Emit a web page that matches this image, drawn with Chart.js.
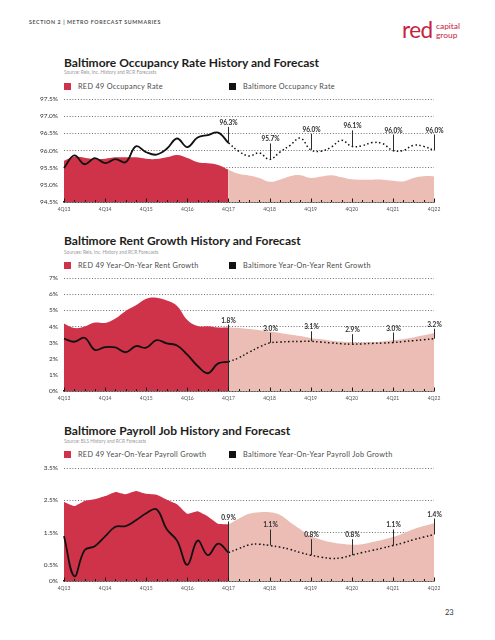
<!DOCTYPE html>
<html>
<head>
<meta charset="utf-8">
<script src="https://cdn.jsdelivr.net/npm/chart.js@4.4.1/dist/chart.umd.min.js"></script>
<style>
  html, body { margin: 0; padding: 0; background: #fff; }
  body { width: 495px; height: 640px; position: relative; overflow: hidden; font-family: Lato, 'Open Sans', sans-serif; color: #333; }
  .abs { position: absolute; white-space: nowrap; line-height: 1; }
  .section { left: 29px; top: 20px; font-size: 5.3px; font-weight: 700; letter-spacing: 0.6px; color: #555; }
  .title { left: 64px; font-size: 12px; font-weight: 700; color: #1d1d1b; }
  .src { left: 64px; font-size: 4.8px; color: #9a9a9a; }
  .leg { font-size: 7.3px; line-height: 7px; letter-spacing: 0.3px; color: #4a4a4a; }
  .sw { position: absolute; width: 7px; height: 7px; }
  .logo { color: #c8203e; }
  canvas { position: absolute; left: 0; }
</style>
</head>
<body>

<div class="abs section">SECTION 2 | METRO FORECAST SUMMARIES</div>
<div class="abs logo" style="left:402px;top:19px;font-size:22.5px;letter-spacing:-0.6px;">red</div>
<div class="abs logo" style="left:436px;top:22px;font-size:8.4px;">capital</div>
<div class="abs logo" style="left:436px;top:31px;font-size:8.4px;">group</div>

<!-- occupancy -->
<div class="abs title" style="top:56.5px;">Baltimore Occupancy Rate History and Forecast</div>
<div class="abs src" style="top:70px;">Source: Reis, Inc. History and RCR Forecasts</div>
<div class="sw" style="left:64px;top:82.5px;background:#cf3349;"></div>
<div class="abs leg" style="left:78px;top:82.5px;">RED 49 Occupancy Rate</div>
<div class="sw" style="left:229px;top:82.5px;background:#111;"></div>
<div class="abs leg" style="left:243px;top:82.5px;">Baltimore Occupancy Rate</div>
<canvas id="occ" width="495" height="128" style="top:88px;"></canvas>

<!-- rent -->
<div class="abs title" style="top:234.5px;">Baltimore Rent Growth History and Forecast</div>
<div class="abs src" style="top:249.5px;">Sources: Reis, Inc. History and RCR Forecasts</div>
<div class="sw" style="left:64px;top:261.5px;background:#cf3349;"></div>
<div class="abs leg" style="left:78px;top:261.5px;">RED 49 Year-On-Year Rent Growth</div>
<div class="sw" style="left:229px;top:261.5px;background:#111;"></div>
<div class="abs leg" style="left:243px;top:261.5px;">Baltimore Year-On-Year Rent Growth</div>
<canvas id="rent" width="495" height="138" style="top:267px;"></canvas>

<!-- payroll -->
<div class="abs title" style="top:424.5px;">Baltimore Payroll Job History and Forecast</div>
<div class="abs src" style="top:438.5px;">Source: BLS History and RCR Forecasts</div>
<div class="sw" style="left:64px;top:451px;background:#cf3349;"></div>
<div class="abs leg" style="left:78px;top:451px;">RED 49 Year-On-Year Payroll Growth</div>
<div class="sw" style="left:229px;top:451px;background:#111;"></div>
<div class="abs leg" style="left:243px;top:451px;">Baltimore Year-On-Year Payroll Job Growth</div>
<canvas id="jobs" width="495" height="138" style="top:457px;"></canvas>

<div class="abs" style="left:445px;top:609px;font-size:7.5px;color:#333;">23</div>

<script>
const quarterLabels = ['4Q13','1Q14','2Q14','3Q14','4Q14','1Q15','2Q15','3Q15','4Q15',
  '1Q16','2Q16','3Q16','4Q16','1Q17','2Q17','3Q17','4Q17',
  '1Q18','2Q18','3Q18','4Q18','1Q19','2Q19','3Q19','4Q19','1Q20','2Q20','3Q20','4Q20',
  '1Q21','2Q21','3Q21','4Q21','1Q22','2Q22','3Q22','4Q22'];
const forecastStart = '4Q17';
const calloutQuarters = ['4Q17','4Q18','4Q19','4Q20','4Q21','4Q22'];

// occupancy rate (%)
const occRedHistory = [95.70, 95.82, 95.79, 95.75, 95.76, 95.80, 95.80, 95.80, 95.76, 95.75, 95.80, 95.87, 95.78, 95.66, 95.63, 95.58, 95.44];
const occRedForecast = [95.44, 95.32, 95.27, 95.20, 95.09, 95.15, 95.25, 95.28, 95.20, 95.24, 95.28, 95.22, 95.16, 95.15, 95.15, 95.15, 95.12, 95.10, 95.20, 95.25, 95.25];
const occMetroHistory = [95.49, 95.86, 95.60, 95.78, 95.63, 95.75, 95.66, 96.12, 95.95, 95.88, 96.05, 96.35, 96.10, 96.38, 96.45, 96.52, 96.22];
const occMetroForecast = [96.22, 95.98, 95.84, 95.93, 95.74, 95.95, 96.15, 96.36, 96.02, 95.98, 96.10, 96.30, 96.12, 96.14, 96.23, 96.20, 96.00, 96.00, 96.15, 96.12, 96.00];
const occCallouts = ['96.3%', '95.7%', '96.0%', '96.1%', '96.0%', '96.0%'];
const occTicks = [94.5, 95.0, 95.5, 96.0, 96.5, 97.0, 97.5];

// rent growth (%)
const rentRedHistory = [4.18, 3.90, 4.00, 4.24, 4.22, 4.49, 4.96, 5.31, 5.72, 5.78, 5.60, 5.27, 4.40, 4.02, 4.01, 3.93, 3.93];
const rentRedForecast = [3.93, 3.90, 3.84, 3.77, 3.68, 3.60, 3.50, 3.40, 3.28, 3.20, 3.12, 3.06, 3.02, 3.01, 3.03, 3.07, 3.14, 3.22, 3.32, 3.45, 3.60];
const rentMetroHistory = [3.25, 3.05, 3.30, 2.55, 2.72, 2.70, 2.40, 2.78, 2.68, 3.15, 2.95, 2.82, 2.25, 1.55, 1.10, 1.71, 1.81];
const rentMetroForecast = [1.81, 2.05, 2.40, 2.72, 2.98, 3.03, 3.06, 3.07, 3.08, 3.03, 2.98, 2.93, 2.90, 2.92, 2.95, 2.97, 3.00, 3.06, 3.12, 3.18, 3.24];
const rentCallouts = ['1.8%', '3.0%', '3.1%', '2.9%', '3.0%', '3.2%'];
const rentTicks = [0, 1, 2, 3, 4, 5, 6, 7];

// payroll job growth (%)
const jobRedHistory = [2.45, 2.32, 2.48, 2.53, 2.63, 2.76, 2.69, 2.79, 2.70, 2.67, 2.52, 2.38, 2.08, 2.16, 2.00, 1.77, 1.75];
const jobRedForecast = [1.75, 1.93, 2.08, 2.13, 2.13, 2.05, 1.82, 1.60, 1.39, 1.28, 1.20, 1.15, 1.12, 1.14, 1.21, 1.28, 1.36, 1.47, 1.60, 1.70, 1.79];
const jobMetroHistory = [1.39, 0.15, 0.95, 1.08, 1.38, 1.68, 1.70, 1.88, 2.10, 2.22, 1.60, 1.25, 0.50, 1.25, 0.80, 1.16, 0.88];
const jobMetroForecast = [0.88, 1.00, 1.12, 1.14, 1.10, 1.05, 0.98, 0.88, 0.80, 0.74, 0.70, 0.72, 0.80, 0.88, 0.95, 1.02, 1.10, 1.18, 1.28, 1.36, 1.44];
const jobCallouts = ['0.9%', '1.1%', '0.8%', '0.8%', '1.1%', '1.4%'];
const jobTicks = [0, 0.5, 1.5, 2.5, 3.5];

const RED = '#cf3349';
const PINK = '#ebbdb5';
const splitAt = quarterLabels.indexOf(forecastStart);

function history(arr) {
    return quarterLabels.map((q, i) => i < arr.length ? arr[i] : null);
}

function forecast(arr) {
    return quarterLabels.map((q, i) => i >= splitAt ? arr[i - splitAt] : null);
}

// callout sticks + labels, quarter tick marks on the axis
function overlay(cfg) {
    return {
        id: 'overlay',
        afterDraw(chart) {
            const { ctx, chartArea, scales: { x, y } } = chart;
            ctx.save();
            ctx.strokeStyle = '#2b2b2b';
            ctx.lineWidth = 1;
            ctx.fillStyle = '#2b2b2b';
            ctx.font = 'bold 6.5px Lato';
            ctx.textAlign = 'center';
            ctx.textBaseline = 'alphabetic';
            calloutQuarters.forEach((q, k) => {
                const i = quarterLabels.indexOf(q);
                const px = Math.round(x.getPixelForValue(i)) + 0.5;
                let top, bottom;
                if (k === 0 && cfg.divider) {
                    bottom = chartArea.bottom;
                    top = y.getPixelForValue(cfg.redForecast[0]) - 3;
                } else {
                    bottom = y.getPixelForValue(cfg.metroForecast[i - splitAt]);
                    top = bottom - cfg.stick;
                }
                ctx.beginPath();
                ctx.moveTo(px, bottom);
                ctx.lineTo(px, top);
                ctx.stroke();
                ctx.fillText(cfg.callouts[k], px, top - 2);
            });
            ctx.strokeStyle = '#1a1a1a';
            quarterLabels.forEach((q, i) => {
                const px = Math.round(x.getPixelForValue(i)) + 0.5;
                ctx.beginPath();
                ctx.moveTo(px, chartArea.bottom);
                ctx.lineTo(px, chartArea.bottom - (q.startsWith('4Q') ? 3.5 : 2));
                ctx.stroke();
            });
            ctx.restore();
        }
    };
}

function makeChart(id, cfg) {
    return new Chart(document.getElementById(id), {
        type: 'line',
        data: {
            labels: quarterLabels,
            datasets: [
                { data: history(cfg.metroHistory), borderColor: '#111', borderWidth: 1.8, tension: 0.4, pointRadius: 0, order: 0 },
                { data: forecast(cfg.metroForecast), borderColor: '#111', borderWidth: 1.5, borderDash: [1.5, 2.5], tension: 0.4, pointRadius: 0, order: 0 },
                { data: history(cfg.redHistory), borderColor: 'transparent', backgroundColor: RED, fill: 'start', tension: cfg.areaTension, pointRadius: 0, order: 1 },
                { data: forecast(cfg.redForecast), borderColor: 'transparent', backgroundColor: PINK, fill: 'start', tension: 0.4, pointRadius: 0, order: 1 }
            ]
        },
        options: {
            responsive: false,
            animation: false,
            events: [],
            layout: { padding: { top: 11, right: 61, left: 0, bottom: 0 } },
            plugins: { legend: { display: false }, tooltip: { enabled: false } },
            scales: {
                x: {
                    afterFit: s => { s.height = 14; },
                    grid: { display: false, drawTicks: false },
                    border: { display: true, color: '#1a1a1a', width: 1.4 },
                    ticks: {
                        autoSkip: false, maxRotation: 0, padding: 4, color: '#555',
                        font: { family: 'Lato', size: 5 },
                        callback: (v, i) => quarterLabels[i].startsWith('4Q') ? quarterLabels[i] : ''
                    }
                },
                y: {
                    min: cfg.ticks[0],
                    max: cfg.ticks[cfg.ticks.length - 1],
                    afterBuildTicks: s => { s.ticks = cfg.ticks.map(v => ({ value: v })); },
                    afterFit: s => { s.width = 64; },
                    grid: { color: '#4a4a4a', lineWidth: 0.8, drawTicks: false },
                    border: { display: false, dash: [1, 1.8] },
                    ticks: { padding: 6, color: '#333', font: { family: 'Lato', size: 6.5 }, callback: cfg.format }
                }
            }
        },
        plugins: [overlay(cfg)]
    });
}

makeChart('occ', {
    redHistory: occRedHistory, redForecast: occRedForecast,
    metroHistory: occMetroHistory, metroForecast: occMetroForecast,
    callouts: occCallouts, ticks: occTicks, stick: 16, divider: false, areaTension: 0.4,
    format: v => v.toFixed(1) + '%'
});
makeChart('rent', {
    redHistory: rentRedHistory, redForecast: rentRedForecast,
    metroHistory: rentMetroHistory, metroForecast: rentMetroForecast,
    callouts: rentCallouts, ticks: rentTicks, stick: 10, divider: true, areaTension: 0.4,
    format: v => v + '%'
});
makeChart('jobs', {
    redHistory: jobRedHistory, redForecast: jobRedForecast,
    metroHistory: jobMetroHistory, metroForecast: jobMetroForecast,
    callouts: jobCallouts, ticks: jobTicks, stick: 16, divider: true, areaTension: 0.1,
    format: v => v === 0 ? '0%' : v.toFixed(1) + '%'
});
</script>
</body>
</html>
